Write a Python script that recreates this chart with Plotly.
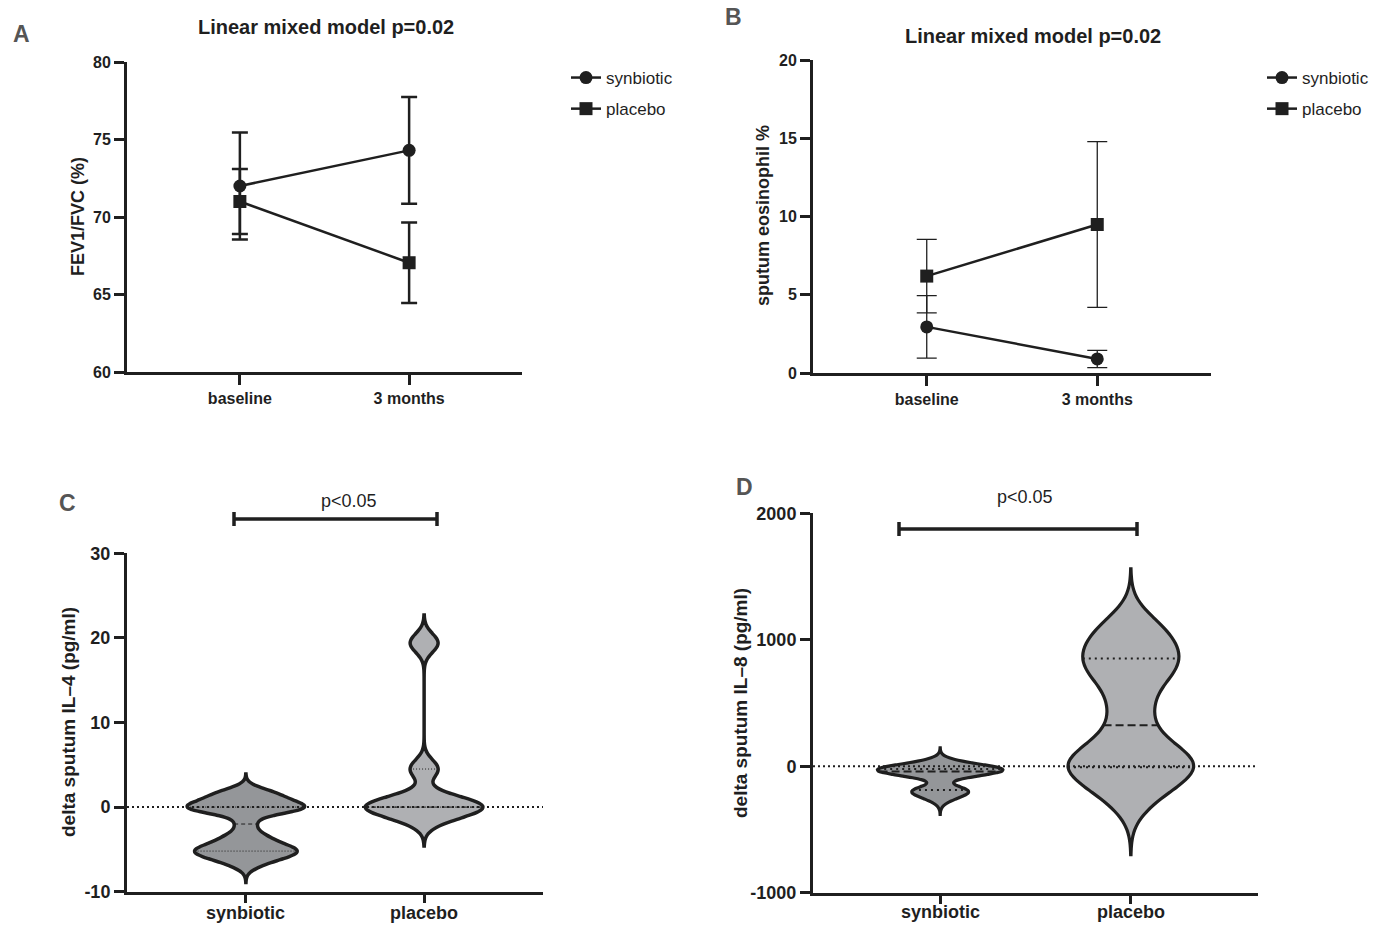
import numpy as np
import plotly.graph_objects as go

# ---------------- data ----------------
TIME = ["baseline", "3 months"]
GROUPS = ["synbiotic", "placebo"]

FEV_SYN = [72.0, 74.3]
FEV_SYN_ERR = [3.45, 3.45]
FEV_PLA = [71.0, 67.05]
FEV_PLA_ERR = [2.1, 2.6]

EOS_SYN = [2.95, 0.9]
EOS_SYN_ERR = [2.0, 0.55]
EOS_PLA = [6.2, 9.5]
EOS_PLA_ERR = [2.35, 5.3]

IL4_SYN = [-6.8, -6.2, -5.8, -5.5, -5.3, -5.2, -5.0, -4.7, -4.3, -3.8, -3.3, -2.0,
           -0.5, -0.3, -0.1, 0, 0, 0, 0.4, 0.9, 1.3, 1.6, 1.8]
IL4_PLA = [-1.3, 0, 0, 0, 0.9, 4.5, 19.4]

IL8_SYN = [-260, -215, -200, -190, -185, -75, -55, -45, -40, -35, -30, -25, -20, -10, 0, 25]
IL8_PLA = [-250, -90, -10, 0, 70, 200, 450, 690, 800, 870, 1000, 1110]

A_YTICKS = [60, 65, 70, 75, 80]
B_YTICKS = [0, 5, 10, 15, 20]
C_YTICKS = [-10, 0, 10, 20, 30]
D_YTICKS = [-1000, 0, 1000, 2000]

# ---------------- style ----------------
W, H = 1375, 929
FONT = "Arial, 'Liberation Sans', sans-serif"
INK = "#1f1f1f"
LETTER = "#555555"
FILL_SYN = "#949699"
FILL_PLA = "#afb0b3"
XR = [-0.667, 1.667]
VW = 0.658  # violin full width in category units


def px(x):
    return x / W


def py(y):
    return 1 - y / H


def kde(data, h, t):
    d = np.asarray(data, float)
    t = np.atleast_1d(np.asarray(t, float))
    return np.exp(-0.5 * ((t[:, None] - d[None, :]) / h) ** 2).sum(axis=1) / (len(d) * h)


def kde_max(data, h, span):
    dist = span[1] - span[0]
    n = int(np.ceil(dist / (h / 3)))
    ts = span[0] + dist / n * np.arange(n + 1)
    return kde(data, h, ts).max()


fig = go.Figure()

# ---------------- panel A ----------------
xs = list(range(len(TIME)))
fig.add_trace(go.Scatter(
    x=xs, y=FEV_SYN, mode="lines+markers", name="synbiotic",
    line=dict(color=INK, width=2.5), marker=dict(symbol="circle", size=13, color=INK),
    error_y=dict(type="data", array=FEV_SYN_ERR, color=INK, thickness=2.5, width=8),
    xaxis="x", yaxis="y", legend="legend", legendgroup="a1"))
fig.add_trace(go.Scatter(
    x=xs, y=FEV_PLA, mode="lines+markers", name="placebo",
    line=dict(color=INK, width=2.5), marker=dict(symbol="square", size=13, color=INK),
    error_y=dict(type="data", array=FEV_PLA_ERR, color=INK, thickness=2.5, width=8),
    xaxis="x", yaxis="y", legend="legend", legendgroup="a2"))

# ---------------- panel B ----------------
fig.add_trace(go.Scatter(
    x=xs, y=EOS_SYN, mode="lines+markers", name="synbiotic",
    line=dict(color=INK, width=2.5), marker=dict(symbol="circle", size=13, color=INK),
    error_y=dict(type="data", array=EOS_SYN_ERR, color=INK, thickness=1.3, width=10),
    xaxis="x2", yaxis="y2", legend="legend2", legendgroup="b1"))
fig.add_trace(go.Scatter(
    x=xs, y=EOS_PLA, mode="lines+markers", name="placebo",
    line=dict(color=INK, width=2.5), marker=dict(symbol="square", size=13, color=INK),
    error_y=dict(type="data", array=EOS_PLA_ERR, color=INK, thickness=1.3, width=10),
    xaxis="x2", yaxis="y2", legend="legend2", legendgroup="b2"))


# ---------------- violins (C, D) ----------------
def add_violins(xa, ya, sets, bws, fills, qwidth, med_dash, q_dash, lw):
    # zero reference line
    fig.add_trace(go.Scatter(x=XR, y=[0, 0], mode="lines", showlegend=False,
                             line=dict(color=INK, width=2, dash="2px,3px"),
                             xaxis=xa, yaxis=ya, hoverinfo="skip"))
    for i, (data, h, fc) in enumerate(zip(sets, bws, fills)):
        span = [min(data) - 3 * h, max(data) + 3 * h]
        fig.add_trace(go.Violin(
            y=data, x0=i, name=GROUPS[i], showlegend=False,
            bandwidth=h, spanmode="manual", span=span,
            scalemode="width", width=VW, points=False,
            box=dict(visible=False), meanline=dict(visible=False),
            line=dict(color=INK, width=lw), fillcolor=fc,
            xaxis=xa, yaxis=ya))
        mx = kde_max(data, h, span)
        q1, q2, q3 = np.percentile(data, [25, 50, 75], method="weibull")
        for q, dash in ((q1, q_dash), (q3, q_dash), (q2, med_dash)):
            hw = VW / 2 * kde(data, h, q)[0] / mx
            fig.add_trace(go.Scatter(
                x=[i - hw, i + hw], y=[q, q], mode="lines", showlegend=False,
                line=dict(color=INK, width=qwidth, dash=dash),
                xaxis=xa, yaxis=ya, hoverinfo="skip"))


add_violins("x3", "y3", [IL4_SYN, IL4_PLA], [0.7, 1.1], [FILL_SYN, FILL_PLA],
            1, "4px,3px", "1px,2px", 3.5)
add_violins("x4", "y4", [IL8_SYN, IL8_PLA], [40, 150], [FILL_SYN, FILL_PLA],
            2, "8px,4px", "2px,4px", 3.2)


# ---------------- axes ----------------
def xaxis(dom, anchor, labels, size, show=True, ticklen=10):
    return dict(domain=dom, anchor=anchor, range=XR, tickmode="array",
                tickvals=list(range(len(labels))), ticktext=labels, automargin=False,
                showticklabels=show,
                showline=True, linewidth=3, linecolor=INK, ticks="outside",
                ticklen=ticklen, tickwidth=3, tickcolor=INK, showgrid=False, zeroline=False,
                tickfont=dict(family=FONT, size=size, color=INK, weight="bold"))


def yaxis(dom, anchor, ticks, size):
    return dict(domain=dom, anchor=anchor, range=[ticks[0], ticks[-1]], tickmode="array",
                tickvals=ticks, ticktext=[str(t) for t in ticks], automargin=False,
                showline=True, linewidth=3, linecolor=INK, ticks="outside",
                ticklen=10, tickwidth=3, tickcolor=INK, showgrid=False, zeroline=False,
                tickfont=dict(family=FONT, size=size, color=INK, weight="bold"))


layout = dict(
    template="none",
    width=W, height=H, margin=dict(l=0, r=0, t=0, b=0, pad=0), autosize=False,
    paper_bgcolor="white", plot_bgcolor="white",
    font=dict(family=FONT, color=INK),
    xaxis=xaxis([px(127), px(522)], "y", TIME, 16),
    yaxis=yaxis([py(372), py(62)], "x", A_YTICKS, 16),
    xaxis2=xaxis([px(813), px(1211)], "y2", TIME, 16),
    yaxis2=yaxis([py(373), py(60.4)], "x2", B_YTICKS, 16),
    xaxis3=xaxis([px(127), px(543)], "y3", GROUPS, 18, show=False, ticklen=8),
    yaxis3=yaxis([py(891.7), py(553.3)], "x3", C_YTICKS, 18),
    xaxis4=xaxis([px(813), px(1258)], "y4", GROUPS, 18, show=False, ticklen=8),
    yaxis4=yaxis([py(892.7), py(513.3)], "x4", D_YTICKS, 18),
    legend=dict(x=px(566), y=py(60), xanchor="left", yanchor="top",
                font=dict(family=FONT, size=17, color=INK), bgcolor="rgba(0,0,0,0)",
                borderwidth=0, traceorder="grouped", tracegroupgap=6),
    legend2=dict(x=px(1262), y=py(60), xanchor="left", yanchor="top",
                 font=dict(family=FONT, size=17, color=INK), bgcolor="rgba(0,0,0,0)",
                 borderwidth=0, traceorder="grouped", tracegroupgap=6),
    showlegend=True,
)
fig.update_layout(**layout)


def note(text, x, y, size, bold=False, color=INK, angle=0, xref="paper"):
    fig.add_annotation(text=text, x=px(x) if xref == "paper" else x, y=py(y),
                       xref=xref, yref="paper",
                       showarrow=False, xanchor="center", yanchor="middle",
                       textangle=angle,
                       font=dict(family=FONT, size=size, color=color,
                                 weight="bold" if bold else "normal"))


note("Linear mixed model p=0.02", 326, 27, 20, bold=True)
note("Linear mixed model p=0.02", 1033, 36, 20, bold=True)
note("A", 21, 34, 23, bold=True, color=LETTER)
note("B", 733, 17, 23, bold=True, color=LETTER)
note("C", 67, 503, 23, bold=True, color=LETTER)
note("D", 744, 487, 23, bold=True, color=LETTER)
note("FEV1/FVC (%)", 78, 217, 18, bold=True, angle=-90)
note("sputum eosinophil %", 763, 216, 18, bold=True, angle=-90)
note("delta sputum IL\u20134 (pg/ml)", 68, 722, 19, bold=True, angle=-90)
note("delta sputum IL\u20138 (pg/ml)", 740, 703, 19, bold=True, angle=-90)
note("p<0.05", 349, 501, 18)
note("p<0.05", 1025, 497, 18)

# category labels of the violin panels, placed on their axis positions
for i, g in enumerate(GROUPS):
    note(g, i, 913, 18, bold=True, xref="x3")
    note(g, i, 912, 18, bold=True, xref="x4")


def bracket(x0, x1, y, cap=7):
    path = (f"M {px(x0)},{py(y - cap)} L {px(x0)},{py(y + cap)} "
            f"M {px(x0)},{py(y)} L {px(x1)},{py(y)} "
            f"M {px(x1)},{py(y - cap)} L {px(x1)},{py(y + cap)}")
    fig.add_shape(type="path", path=path, xref="paper", yref="paper",
                  line=dict(color=INK, width=3.5))


bracket(234, 437, 519)
bracket(899, 1137, 529)

fig.write_html("out.html", config={"displayModeBar": False},
               post_script="document.body.style.margin='0';")
